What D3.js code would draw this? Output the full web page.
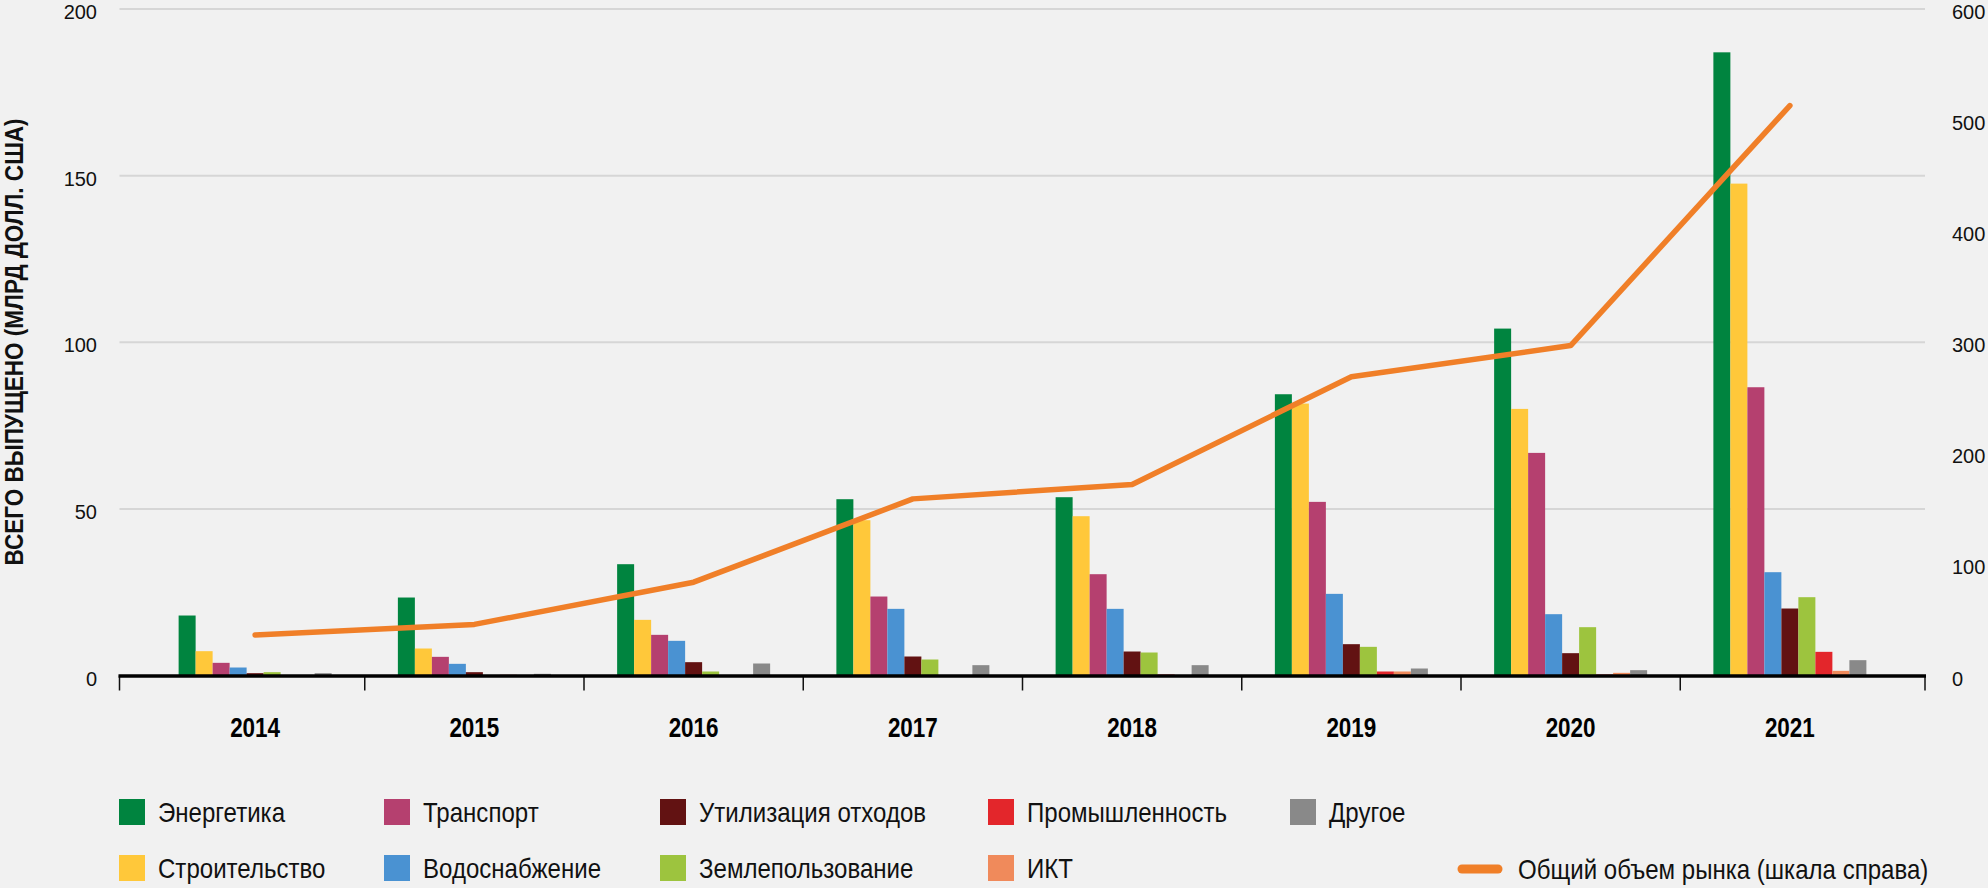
<!DOCTYPE html>
<html>
<head>
<meta charset="utf-8">
<script src="https://cdn.jsdelivr.net/npm/d3@7"></script>
<style>
  html, body { margin: 0; padding: 0; background: #f1f1f1; }
  svg { display: block; }
  .cond { font-family: "Liberation Sans Narrow", "Liberation Sans", sans-serif; }
  .reg { font-family: "Liberation Sans", "Open Sans", sans-serif; }
</style>
</head>
<body>
<svg id="chart" width="1988" height="888"></svg>
<script>
// ---- data ----
const years = ["2014", "2015", "2016", "2017", "2018", "2019", "2020", "2021"];
const energy       = [18.0, 23.4, 33.4, 52.9, 53.5, 84.4, 104.1, 187.0];
const construction = [7.3, 8.1, 16.7, 46.6, 47.8, 81.6, 80.0, 147.6];
const transport    = [3.8, 5.6, 12.2, 23.7, 30.4, 52.1, 66.8, 86.5];
const water        = [2.4, 3.5, 10.4, 20.0, 20.0, 24.5, 18.4, 31.0];
const waste        = [0.7, 1.0, 4.0, 5.7, 7.2, 9.4, 6.7, 20.1];
const land         = [1.0, 0.0, 1.2, 4.8, 6.9, 8.6, 14.5, 23.5];
const industry     = [0.0, 0.2, 0.0, 0.0, 0.3, 1.2, 0.3, 7.1];
const ict          = [0.0, 0.0, 0.0, 0.0, 0.0, 1.2, 0.8, 1.4];
const other        = [0.7, 0.5, 3.6, 3.1, 3.1, 2.1, 1.6, 4.6];
const totalMarket  = [36.5, 46, 84, 159, 172, 269, 297, 513];

const seriesNames = ["Энергетика", "Строительство", "Транспорт", "Водоснабжение",
  "Утилизация отходов", "Землепользование", "Промышленность", "ИКТ", "Другое"];
const seriesValues = [energy, construction, transport, water, waste, land, industry, ict, other];
const seriesColors = ["#00843f", "#ffc83a", "#b5406f", "#4a92d2", "#621212",
  "#9dc43e", "#e3262b", "#f08a5b", "#898989"];
const lineName = "Общий объем рынка (шкала справа)";
const lineColor = "#f07f28";
const leftTicks = [0, 50, 100, 150, 200];
const rightTicks = [0, 100, 200, 300, 400, 500, 600];
const yTitle = "ВСЕГО ВЫПУЩЕНО (МЛРД ДОЛЛ. США)";

// ---- helpers: condense text to a condensed-font look ----
function measure(text, cls, size, weight) {
  const t = d3.select("#chart").append("text").attr("class", cls)
    .attr("font-size", size).attr("font-weight", weight).text(text);
  const w = t.node().getComputedTextLength();
  t.remove();
  return w;
}
function condense(sel, factor) {
  sel.each(function () {
    const w = this.getComputedTextLength();
    d3.select(this).attr("textLength", w * factor).attr("lengthAdjust", "spacingAndGlyphs");
  });
}

// ---- layout ----
const svg = d3.select("#chart");
svg.append("rect").attr("width", 1988).attr("height", 888).attr("fill", "#f1f1f1");

const axisLeftX = 119.5, axisRightX = 1925;
const y0 = 675.5, yTop = 9;
const x = d3.scaleBand().domain(years).range([145.5, 1899.5]).paddingInner(0).paddingOuter(0);
const bw = x.bandwidth();
const groupW = 153;
const xi = d3.scaleBand().domain(d3.range(seriesNames.length))
  .range([(bw - groupW) / 2, (bw + groupW) / 2]).padding(0);
const yL = d3.scaleLinear().domain([0, 200]).range([y0, yTop]);
const yR = d3.scaleLinear().domain([0, 600]).range([y0, yTop]);

const legendFactor = Math.min(1, 127 / measure("Энергетика", "cond", 28, "normal"));
const yearFactor = Math.min(1, 50 / measure("2014", "cond", 27, "bold"));
const titleFactor = Math.min(1, 447 / measure(yTitle, "cond", 26, "bold"));

// gridlines
svg.append("g").selectAll("line").data(leftTicks.filter(d => d > 0)).join("line")
  .attr("x1", axisLeftX).attr("x2", axisRightX)
  .attr("y1", d => yL(d)).attr("y2", d => yL(d))
  .attr("stroke", "#d6d6d6").attr("stroke-width", 2);

// left tick labels
svg.append("g").selectAll("text").data(leftTicks).join("text")
  .attr("class", "reg")
  .attr("x", 97).attr("y", d => yL(d)).attr("dy", "0.5em")
  .attr("text-anchor", "end").attr("font-size", 20).attr("fill", "#111")
  .text(d => d);

// right tick labels
svg.append("g").selectAll("text").data(rightTicks).join("text")
  .attr("class", "reg")
  .attr("x", 1952).attr("y", d => yR(d)).attr("dy", "0.5em")
  .attr("text-anchor", "start").attr("font-size", 20).attr("fill", "#111")
  .text(d => d);

// y title
svg.append("text").attr("class", "cond")
  .attr("transform", `translate(23, 342) rotate(-90)`)
  .attr("text-anchor", "middle").attr("font-size", 26).attr("font-weight", "bold")
  .attr("fill", "#111").text(yTitle)
  .call(condense, titleFactor);

// bars
const groups = svg.append("g").selectAll("g").data(years).join("g")
  .attr("transform", d => `translate(${x(d)},0)`);
groups.selectAll("rect").data((yr, i) => seriesValues.map((arr, s) => ({ s, v: arr[i] })))
  .join("rect")
  .attr("x", d => xi(d.s)).attr("width", xi.bandwidth())
  .attr("y", d => yL(d.v)).attr("height", d => y0 - yL(d.v))
  .attr("fill", d => seriesColors[d.s]);

// x axis line and ticks
const tickXs = [axisLeftX].concat(years.slice(1).map(d => x(d))).concat([axisRightX]);
svg.append("g").selectAll("line").data(tickXs).join("line")
  .attr("x1", d => d).attr("x2", d => d).attr("y1", y0).attr("y2", y0 + 15)
  .attr("stroke", "#111").attr("stroke-width", 1.5);
svg.append("line").attr("x1", axisLeftX - 1).attr("x2", axisRightX + 1)
  .attr("y1", y0 + 0.5).attr("y2", y0 + 0.5)
  .attr("stroke", "#000").attr("stroke-width", 3.5);

// year labels
svg.append("g").selectAll("text").data(years).join("text")
  .attr("class", "cond")
  .attr("x", d => x(d) + bw / 2).attr("y", 737)
  .attr("text-anchor", "middle").attr("font-size", 27).attr("font-weight", "bold")
  .attr("fill", "#000").text(d => d)
  .call(condense, yearFactor);

// total market line
const line = d3.line().x((d, i) => x(years[i]) + bw / 2).y(d => yR(d));
svg.append("path").datum(totalMarket).attr("d", line)
  .attr("fill", "none").attr("stroke", lineColor).attr("stroke-width", 5.5)
  .attr("stroke-linecap", "round").attr("stroke-linejoin", "round");

// legend
const legendCols = [119, 384, 660, 988, 1290];
const legendRows = [812, 868];
const sq = 26;
const legendOrder = [0, 2, 4, 6, 8, 1, 3, 5, 7];
const legendItems = legendOrder.map((s, k) => ({
  s, col: k < 5 ? k : k - 5, row: k < 5 ? 0 : 1
}));
const lg = svg.append("g").selectAll("g").data(legendItems).join("g")
  .attr("transform", d => `translate(${legendCols[d.col]},${legendRows[d.row]})`);
lg.append("rect").attr("x", 0).attr("y", -sq / 2).attr("width", sq).attr("height", sq)
  .attr("fill", d => seriesColors[d.s]);
lg.append("text").attr("class", "cond")
  .attr("x", 39).attr("y", 0).attr("dy", "0.36em")
  .attr("font-size", 28).attr("fill", "#111")
  .text(d => seriesNames[d.s])
  .call(condense, legendFactor);

const ll = svg.append("g").attr("transform", `translate(1458,${legendRows[1] + 1})`);
ll.append("line").attr("x1", 4).attr("x2", 40).attr("y1", 0).attr("y2", 0)
  .attr("stroke", lineColor).attr("stroke-width", 9).attr("stroke-linecap", "round");
ll.append("text").attr("class", "cond")
  .attr("x", 60).attr("y", 0).attr("dy", "0.36em")
  .attr("font-size", 28).attr("fill", "#111").text(lineName)
  .call(condense, legendFactor);
</script>
</body>
</html>
